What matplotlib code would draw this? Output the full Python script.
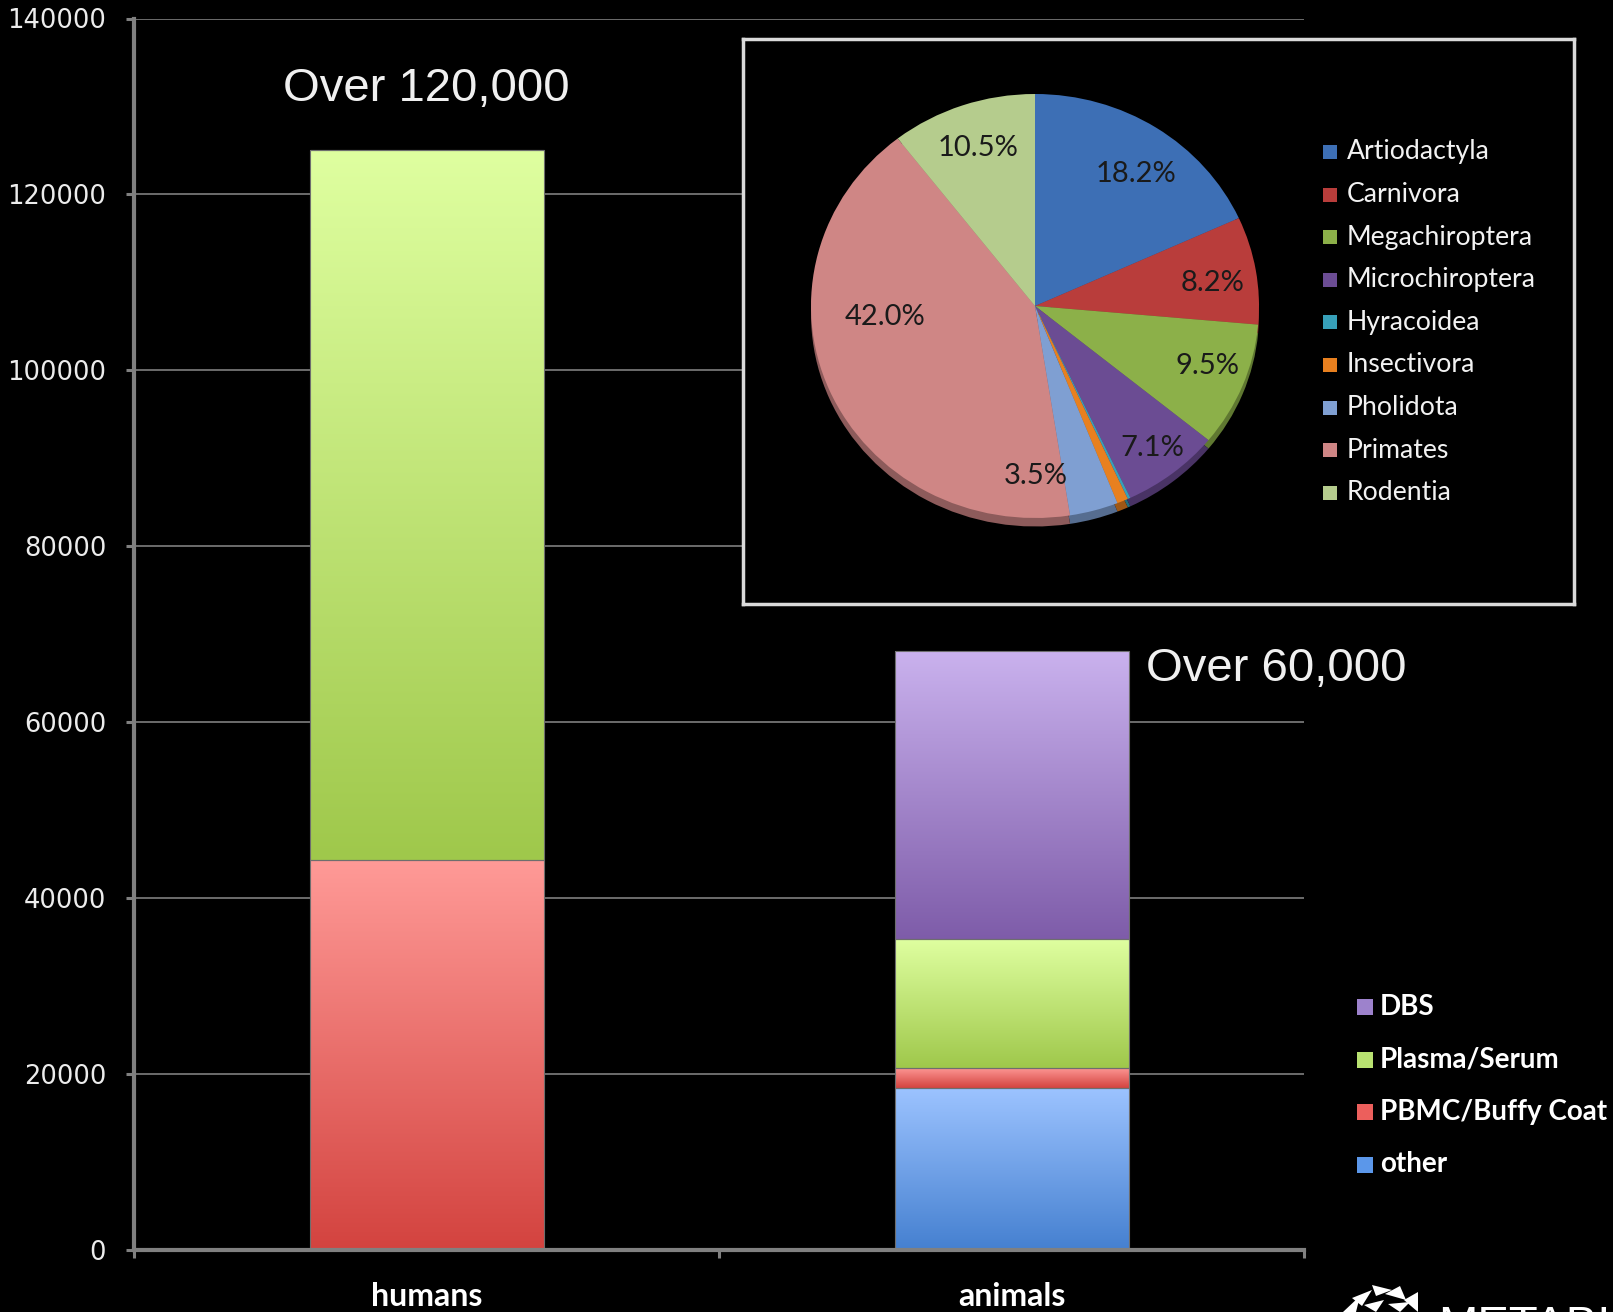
import numpy as np
import matplotlib
matplotlib.use("Agg")
import matplotlib.pyplot as plt
from matplotlib.colors import LinearSegmentedColormap
from matplotlib.patches import Rectangle, Polygon

# stacked sample counts
groups = ["humans", "animals"]
sample_types = ["other", "PBMC/Buffy Coat", "Plasma/Serum", "DBS"]
counts = {
    "other":           [0,     18400],
    "PBMC/Buffy Coat": [44300, 2300],
    "Plasma/Serum":    [80700, 14600],
    "DBS":             [0,     32800],
}
y_ticks = [0, 20000, 40000, 60000, 80000, 100000, 120000, 140000]
notes = ["Over 120,000", "Over 60,000"]

# animal samples by order (percent)
orders = ["Artiodactyla", "Carnivora", "Megachiroptera", "Microchiroptera",
          "Hyracoidea", "Insectivora", "Pholidota", "Primates", "Rodentia"]
order_pct = [18.2, 8.2, 9.5, 7.1, 0.2, 0.8, 3.5, 42.0, 10.5]

# (top, bottom) gradient colours per sample type
grad = {
    "other":           ("#9cc3ff", "#4580d0"),
    "PBMC/Buffy Coat": ("#ff9a97", "#d3433f"),
    "Plasma/Serum":    ("#dfffa0", "#9fc84b"),
    "DBS":             ("#cab2ee", "#7e5ca9"),
}
legend_col = {"DBS": "#9d82cc", "Plasma/Serum": "#b9e271",
              "PBMC/Buffy Coat": "#ec5f5c", "other": "#5b97ea"}
pie_cols = ["#3d6fb5", "#b93d3b", "#8cb049", "#6b4c93", "#37a0b9",
            "#e8801f", "#7f9fd2", "#cf8685", "#b5cc8d"]
pie_dark = ["#274b7d", "#7c2927", "#5f7831", "#493365", "#246d7e",
            "#9e5715", "#566d90", "#8d5b5b", "#7b8b60"]

W, H = 1613, 1312
fig = plt.figure(figsize=(W / 100, H / 100), dpi=100, facecolor="black")

def fx(px):
    return px / W

def fy(py):
    return 1 - py / H

ax = fig.add_axes([fx(134), fy(1250), fx(1304 - 134), (1250 - 18.5) / H])
ax.set_facecolor("black")

x = np.arange(len(groups))
width = 0.4
bottom = np.zeros(len(groups))
for st in sample_types:
    vals = np.array(counts[st], dtype=float)
    bars = ax.bar(x, vals, width, bottom=bottom, facecolor="none",
                  edgecolor="#6e6e6e", linewidth=0.8, zorder=4)
    cmap = LinearSegmentedColormap.from_list(st, [grad[st][1], grad[st][0]])
    for b in bars:
        if b.get_height() <= 0:
            continue
        x0, y0 = b.get_x(), b.get_y()
        im = ax.imshow(np.linspace(0, 1, 256).reshape(-1, 1), cmap=cmap,
                       origin="lower", aspect="auto", zorder=3,
                       extent=[x0, x0 + b.get_width(), y0, y0 + b.get_height()])
        im.set_clip_path(b)
    bottom += vals

totals = bottom
ax.set_xlim(-0.5, 1.5)
ax.set_ylim(0, 140000)
ax.set_aspect("auto")

ax.set_yticks(y_ticks)
ax.set_yticklabels([str(v) for v in y_ticks], fontsize=18.5, color="#ececec",
                   family="DejaVu Sans")
ax.set_xticks([-0.5, 0.5, 1.5])
ax.set_xticklabels([])
ax.set_xticks(x, minor=True)
ax.set_xticklabels(groups, minor=True, fontsize=23, fontweight="bold",
                   color="white", family="Lato")
ax.tick_params(axis="y", length=6, width=2.2, color="#808080", pad=14)
ax.tick_params(axis="x", which="major", length=6, width=2.2, color="#808080")
ax.tick_params(axis="x", which="minor", length=0, pad=23)

ax.grid(axis="y", color="#8a8a8a", linewidth=1.1)
ax.set_axisbelow(True)
for s in ["top", "right"]:
    ax.spines[s].set_visible(False)
for s in ["left", "bottom"]:
    ax.spines[s].set_color("#808080")
    ax.spines[s].set_linewidth(3)
    ax.spines[s].set_zorder(5)

# callouts above the bars
ax.text(x[0], totals[0] + 7000, notes[0], ha="center", va="center",
        fontsize=34, color="#f0f0f0", family="Liberation Sans")
ax.text(x[1] + width / 2 + 0.03, totals[1] - 2100, notes[1], ha="left",
        va="center", fontsize=34, color="#f0f0f0", family="Liberation Sans")

# sample-type legend
for i, st in enumerate(sample_types[::-1]):
    cy = 1007 + i * 52.5
    fig.patches.append(Rectangle((fx(1357), fy(cy + 8)), fx(16), 16 / H,
                                 transform=fig.transFigure,
                                 facecolor=legend_col[st], edgecolor="none"))
    fig.text(fx(1380), fy(cy), st, ha="left", va="center", fontsize=20,
             fontweight="bold", color="white", family="Lato")

# inset frame
box = fig.add_axes([fx(743), fy(604), fx(831), 565 / H])
box.set_facecolor("black")
box.set_xticks([])
box.set_yticks([])
for s in box.spines.values():
    s.set_color("#dadada")
    s.set_linewidth(2.5)

# pie of animal orders
pax = fig.add_axes([fx(1035 - 224), fy(306 + 212), fx(448), 424 / H])
pax.set_facecolor("none")
shadow, _ = pax.pie(order_pct, colors=pie_dark, startangle=90,
                    counterclock=False, center=(0, -0.04), radius=1,
                    normalize=True)
wedges, _ = pax.pie(order_pct, colors=pie_cols, startangle=90,
                    counterclock=False, radius=1, normalize=True)
for w in list(shadow) + list(wedges):
    w.set_clip_on(False)
    w.set_linewidth(0)
pax.set_aspect("auto")
pax.set_xlim(-1, 1)
pax.set_ylim(-1, 1)
pax.axis("off")

label_r = [0.77, 0.80, 0.82, 0.85, 0, 0, 0.80, 0.67, 0.79]
label_turn = [-3, -2, 2, 0, 0, 0, -15, -19, 0]
start = 90.0
for pct, r, turn in zip(order_pct, label_r, label_turn):
    span = 360 * pct / sum(order_pct)
    mid = np.radians(start - span / 2 + turn)
    start -= span
    if r == 0:
        continue
    pax.text(r * np.cos(mid), r * np.sin(mid), f"{pct:.1f}%", ha="center",
             va="center", fontsize=21, color="#1a1a1a", family="Lato")

for i, name in enumerate(orders):
    cy = 152 + i * 42.6
    fig.patches.append(Rectangle((fx(1323), fy(cy + 7)), fx(14), 14 / H,
                                 transform=fig.transFigure,
                                 facecolor=pie_cols[i], edgecolor="none"))
    fig.text(fx(1347), fy(cy), name, ha="left", va="center", fontsize=19.2,
             color="#f2f2f2", family="Lato")

# logo peeking in at the bottom edge
tris = [[(1343, 1312), (1360, 1296), (1356, 1312)],
        [(1352, 1298), (1372, 1290), (1362, 1306)],
        [(1372, 1285), (1392, 1290), (1376, 1296)],
        [(1385, 1294), (1400, 1286), (1406, 1300)],
        [(1364, 1305), (1384, 1300), (1376, 1312)],
        [(1388, 1304), (1410, 1302), (1400, 1312)],
        [(1404, 1300), (1418, 1292), (1418, 1312)]]
for t in tris:
    fig.patches.append(Polygon([(fx(a), fy(b)) for a, b in t], closed=True,
                               transform=fig.transFigure, facecolor="white",
                               edgecolor="none"))
fig.text(fx(1438), fy(1305), "METABIOTA", ha="left", va="top", fontsize=34,
         color="white", family="Liberation Sans")

fig.savefig("out.png", dpi=100, facecolor="black")
